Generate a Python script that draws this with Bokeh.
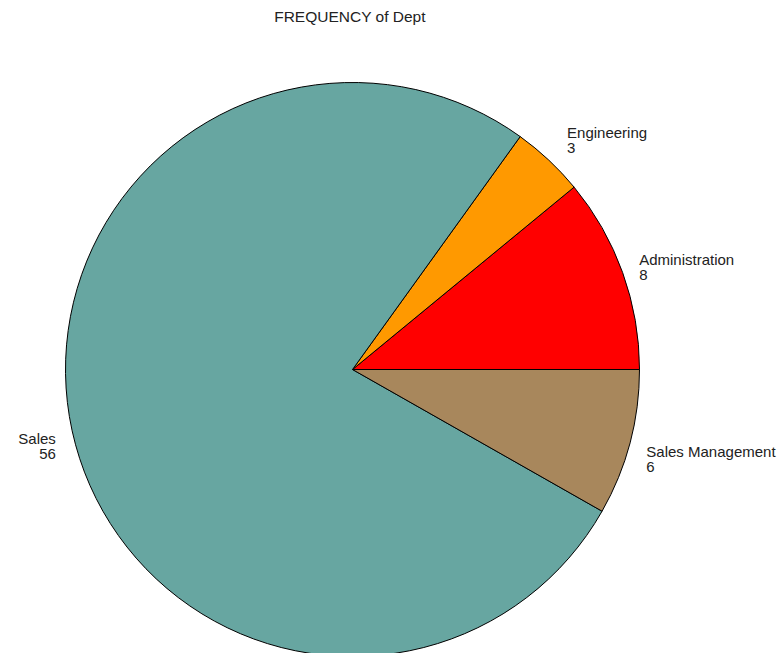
import math
from bokeh.plotting import figure
from bokeh.models import Range1d, ColumnDataSource
from bokeh.core.properties import value
from bokeh.embed import file_html
from bokeh.resources import INLINE

# Data
depts = ["Administration", "Engineering", "Sales", "Sales Management"]
counts = [8, 3, 56, 6]
colors = ["#FF0000", "#FF9900", "#67A6A1", "#A8875C"]
title_text = "FREQUENCY of Dept"

W, H = 777, 653
cx, cy, r = 352, 284, 287

total = sum(counts)
starts, ends, mids = [], [], []
acc = 0.0
for c in counts:
    a0 = acc / total * 2 * math.pi
    acc += c
    a1 = acc / total * 2 * math.pi
    starts.append(a0)
    ends.append(a1)
    mids.append((a0 + a1) / 2)

p = figure(width=W, height=H, output_backend="svg", toolbar_location=None,
           x_range=Range1d(0, W), y_range=Range1d(0, H),
           x_axis_location=None, y_axis_location=None, min_border=0)
p.outline_line_color = None
p.grid.visible = False
p.background_fill_color = "white"

src = ColumnDataSource(dict(start=starts, end=ends, color=colors))
p.wedge(x=cx, y=cy, radius=r, start_angle="start", end_angle="end",
        fill_color="color", line_color="black", line_width=1, source=src)

lx, ly, aligns = [], [], []
for m in mids:
    ux, uy = math.cos(m), math.sin(m)
    s = 1 if ux >= 0 else -1
    lx.append(cx + 0.976 * r * ux + 23 * s)
    ly.append(cy + 1.128 * r * uy - 7)
    aligns.append("left" if s > 0 else "right")
labels = [f"{d}\n{c}" for d, c in zip(depts, counts)]
lsrc = ColumnDataSource(dict(x=lx, y=ly, text=labels, align=aligns))
p.text(x="x", y="y", text="text", text_align="align", text_baseline="middle",
       text_font=value("Liberation Sans"), text_font_size="15px",
       text_line_height=0.87, text_color="#222222", source=lsrc)

p.text(x=[349.5], y=[H - 16], text=[title_text], text_align="center",
       text_baseline="middle", text_font=value("Liberation Sans"),
       text_font_size="15.5px", text_color="#222222")

open("out.html", "w").write(file_html(p, INLINE))
